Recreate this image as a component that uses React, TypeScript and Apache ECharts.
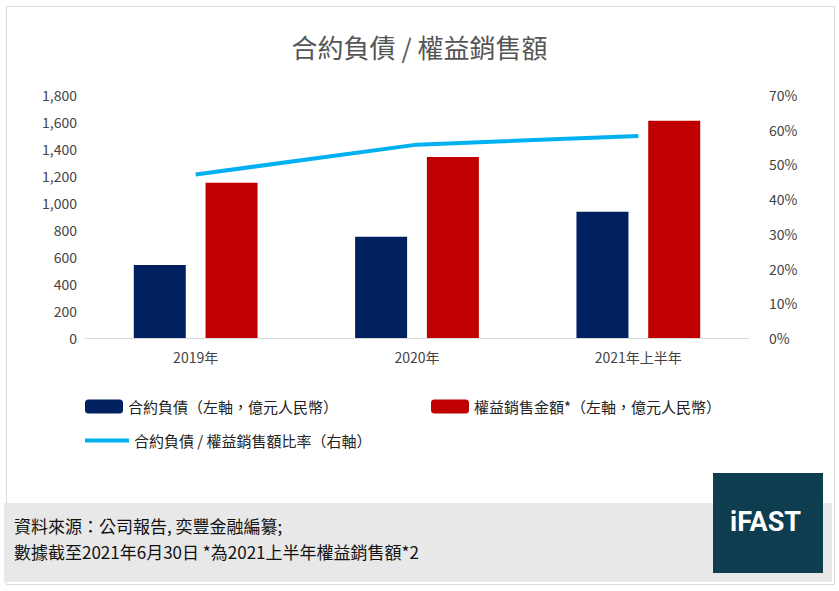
import React, { useEffect, useRef } from 'react';
import * as echarts from 'echarts';

const categories = ['2019年', '2020年', '2021年上半年'];
const contractLiabilities = [540, 750, 935];
const equitySales = [1150, 1340, 1610];
const ratio = [47.1, 55.7, 58.2];

const FONT = '"Noto Sans CJK TC", "Noto Sans", sans-serif';

const App: React.FC = () => {
  const chartRef = useRef<HTMLDivElement>(null);

  useEffect(() => {
    document.body.style.margin = '0';
    if (!chartRef.current) return;
    const chart = echarts.init(chartRef.current, undefined, { renderer: 'svg' });
    const legendText = { fontSize: 15, color: '#222', fontFamily: FONT };
    chart.setOption({
      animation: false,
      backgroundColor: '#fff',
      textStyle: { fontFamily: FONT },
      title: {
        text: '合約負債 / 權益銷售額',
        left: 'center',
        top: 28,
        textStyle: { fontSize: 26, fontWeight: 'normal', color: '#555', fontFamily: FONT },
      },
      grid: { left: 85, right: 90, top: 95, bottom: 253 },
      legend: [
        {
          data: ['合約負債（左軸，億元人民幣）'],
          left: 80, top: 394, itemWidth: 38, itemHeight: 14, itemGap: 4,
          textStyle: legendText,
        },
        {
          data: ['權益銷售金額*（左軸，億元人民幣）'],
          left: 426, top: 394, itemWidth: 38, itemHeight: 14, itemGap: 4,
          textStyle: legendText,
        },
        {
          data: [{ name: '合約負債 / 權益銷售額比率（右軸）', icon: 'rect' }],
          left: 80, top: 428, itemWidth: 44, itemHeight: 4, itemGap: 4,
          textStyle: legendText,
        },
      ],
      xAxis: {
        type: 'category',
        data: categories,
        axisTick: { show: false },
        axisLine: { lineStyle: { color: '#d9d9d9' } },
        axisLabel: { fontSize: 14, color: '#444', margin: 12 },
      },
      yAxis: [
        {
          type: 'value', min: 0, max: 1800, interval: 200,
          axisLabel: {
            fontSize: 14, color: '#444',
            formatter: (v: number) => v.toLocaleString('en-US'),
          },
          splitLine: { show: false },
        },
        {
          type: 'value', min: 0, max: 70, interval: 10,
          axisLabel: { fontSize: 14, color: '#444', formatter: '{value}%', margin: 20 },
          splitLine: { show: false },
        },
      ],
      series: [
        {
          name: '合約負債（左軸，億元人民幣）',
          type: 'bar',
          data: contractLiabilities,
          barWidth: 52,
          barGap: '38%',
          itemStyle: { color: '#002060' },
        },
        {
          name: '權益銷售金額*（左軸，億元人民幣）',
          type: 'bar',
          data: equitySales,
          barWidth: 52,
          itemStyle: { color: '#c00000' },
        },
        {
          name: '合約負債 / 權益銷售額比率（右軸）',
          type: 'line',
          yAxisIndex: 1,
          data: ratio,
          symbol: 'none',
          lineStyle: { color: '#00b0f0', width: 4 },
          itemStyle: { color: '#00b0f0' },
          label: {
            show: true, position: 'top', distance: 10,
            fontSize: 14, color: '#444',
            formatter: (p: any) => `${p.value}%`,
          },
          labelLayout: (p: any) => (p.dataIndex === 0 ? { dx: 15 } : { dx: 0 }),
        },
      ],
      graphic: [
        {
          type: 'rect', left: 4, top: 4,
          shape: { width: 828, height: 578 },
          style: { fill: 'none', stroke: '#d9d9d9', lineWidth: 1 },
        },
        {
          type: 'rect', left: 4, top: 503,
          shape: { width: 828, height: 79 },
          style: { fill: '#e8e8e8' },
        },
        {
          type: 'text', left: 14, top: 512,
          style: {
            text: '資料來源：公司報告, 奕豐金融編纂;\n數據截至2021年6月30日 *為2021上半年權益銷售額*2',
            fontSize: 17, lineHeight: 26, fill: '#111', fontFamily: FONT,
          },
        },
        {
          type: 'rect', left: 713, top: 473,
          shape: { width: 110, height: 100 },
          style: { fill: '#0d3d4f' },
        },
        {
          type: 'text', left: 730, top: 508,
          style: {
            text: 'iFAST', fontSize: 27, fontWeight: 'bold', fill: '#fff',
            fontFamily: 'Roboto, "Liberation Sans", sans-serif',
          },
        },
      ],
    });
    return () => chart.dispose();
  }, []);

  return <div ref={chartRef} style={{ width: 839, height: 591 }} />;
};

export default App;
